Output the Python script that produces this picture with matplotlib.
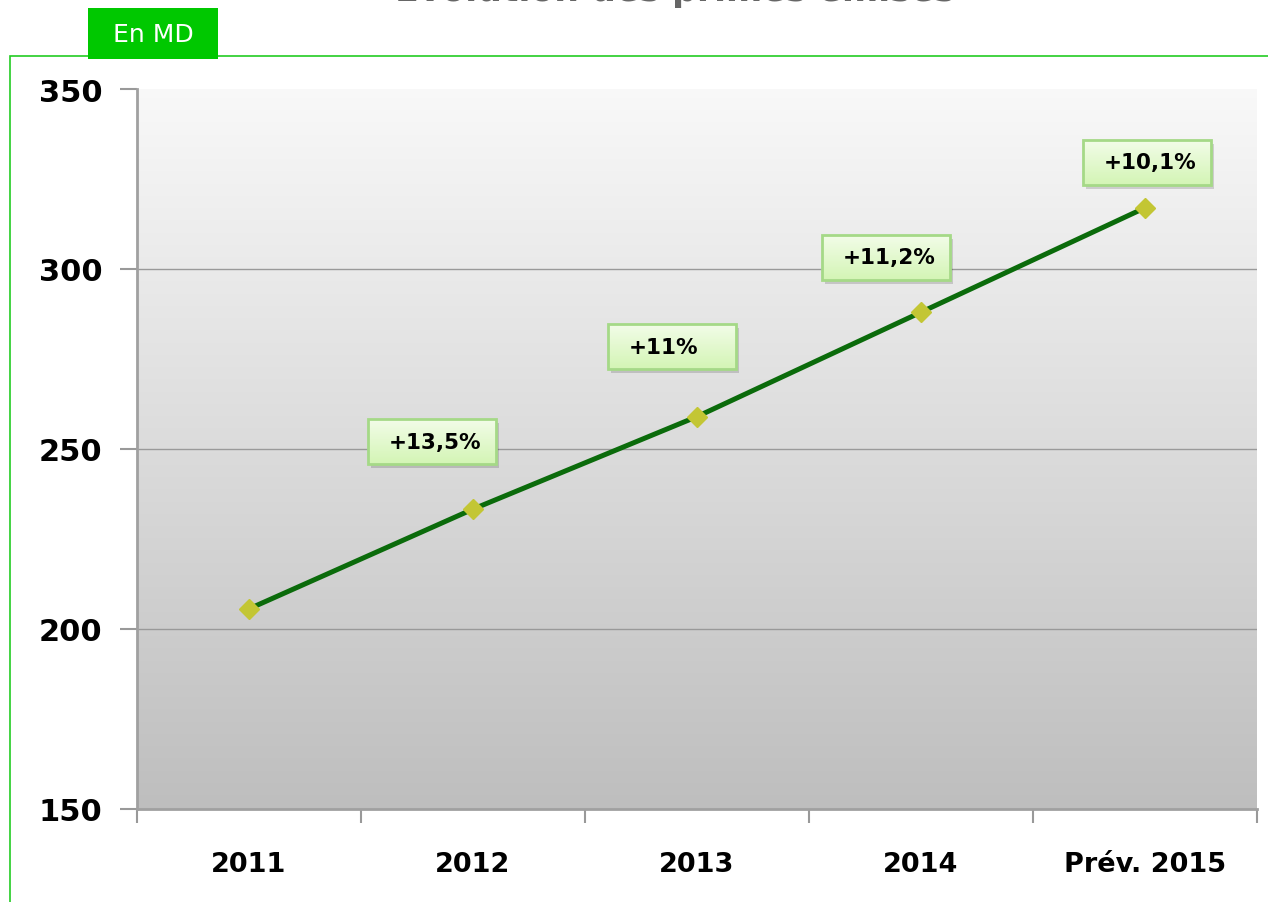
import matplotlib
matplotlib.use("Agg")
import matplotlib.pyplot as plt
import numpy as np
from matplotlib.patches import Rectangle
from matplotlib.transforms import IdentityTransform

# data (en MD)
years = ["2011", "2012", "2013", "2014", "Prév. 2015"]
primes = [205.6, 233.3, 259.0, 288.0, 317.0]
growth = ["+13,5%", "+11%", "+11,2%", "+10,1%"]
y_ticks = [150, 200, 250, 300, 350]

# label box offsets from their point, in pixels (x right, y up)
box_offsets = [(-105, 46), (-89, 48), (-99, 33), (-62, 23)]
BOX_W, BOX_H = 128, 45

W, H = 1268, 903
fig = plt.figure(figsize=(W / 100, H / 100), dpi=100)
ax = fig.add_axes([137 / W, 1 - 810 / H, 1120 / W, 720 / H])

x = np.arange(len(years))
ax.set_xlim(-0.5, len(years) - 0.5)
ax.set_ylim(150, 350)

# grey vertical gradient background
grad = np.linspace(0, 1, 256).reshape(-1, 1)
top, bot = np.array([0.975, 0.975, 0.975]), np.array([0.745, 0.745, 0.745])
img = top + (bot - top) * grad[..., None]
ax.imshow(img.reshape(256, 1, 3), extent=[0, 1, 0, 1], transform=ax.transAxes,
          aspect="auto", zorder=0, interpolation="bilinear")

for yv in y_ticks[1:-1]:
    ax.axhline(yv, color="#999999", lw=1, zorder=1)

ax.plot(x, primes, color="#0b6b0b", lw=3.6, zorder=3)
ax.plot(x, primes, ls="none", marker="D", ms=10, color="#c3c634",
        markeredgecolor="#c3c634", zorder=4)

ax.set_yticks(y_ticks)
ax.set_yticklabels([str(v) for v in y_ticks], fontsize=22, fontweight="bold",
                   family="DejaVu Sans")
ax.set_xticks(x)
ax.set_xticklabels(years, fontsize=19.5, fontweight="bold", family="DejaVu Sans")
ax.set_xticks(np.arange(-0.5, len(years)), minor=True)
ax.tick_params(axis="x", which="major", length=0, pad=30)
ax.tick_params(axis="x", which="minor", length=10, color="#999999", width=1.5)
ax.tick_params(axis="y", length=12, color="#999999", width=1.5, pad=13)
for s in ["top", "right"]:
    ax.spines[s].set_visible(False)
for s in ["left", "bottom"]:
    ax.spines[s].set_color("#a0a0a0")
    ax.spines[s].set_linewidth(2)

# growth labels in light green boxes
fig.canvas.draw()
g = np.linspace(0, 1, BOX_H).reshape(-1, 1, 1)
c_top, c_bot = np.array([0.95, 0.99, 0.91]), np.array([0.83, 0.96, 0.71])
box_img = np.repeat(c_top + (c_bot - c_top) * g, BOX_W, axis=1)
for i, (lab, (dx, dy)) in enumerate(zip(growth, box_offsets)):
    px, py = ax.transData.transform((x[i + 1], primes[i + 1]))
    x0, y0 = int(px + dx), int(py + dy)
    fig.add_artist(Rectangle((x0 + 3, y0 - 4), BOX_W, BOX_H, facecolor="#000000",
                             alpha=0.15, lw=0, transform=IdentityTransform(), zorder=5))
    fig.figimage(box_img, xo=x0, yo=y0, zorder=6, origin="upper")
    fig.add_artist(Rectangle((x0, y0), BOX_W, BOX_H, facecolor="none",
                             edgecolor="#a5d987", lw=2, transform=IdentityTransform(),
                             zorder=7))
    fig.text((x0 + 21) / W, (y0 + BOX_H / 2) / H, lab, ha="left", va="center",
             fontsize=15.5, fontweight="bold", family="DejaVu Sans", zorder=8)

# green frame and "En MD" tab
fig.add_artist(Rectangle((10 / W, -0.1), 1.2, 1 - 57 / H + 0.1, facecolor="none",
                         edgecolor="#22cc22", lw=1.2, zorder=2))
fig.add_artist(Rectangle((88 / W, 1 - 60 / H), 130 / W, 51 / H, facecolor="#00c800",
                         edgecolor="none", zorder=3))
fig.text(153 / W, 1 - 35 / H, "En MD", color="white", fontsize=18, ha="center",
         va="center", family="DejaVu Sans")

# title, cut off at the top edge in the original
fig.text(675 / W, 1 - 0.5 / H, "Évolution des primes émises", color="#666666",
         fontsize=25, fontweight="bold", ha="center", va="baseline",
         family="DejaVu Sans")

fig.savefig("out.png", dpi=100)
